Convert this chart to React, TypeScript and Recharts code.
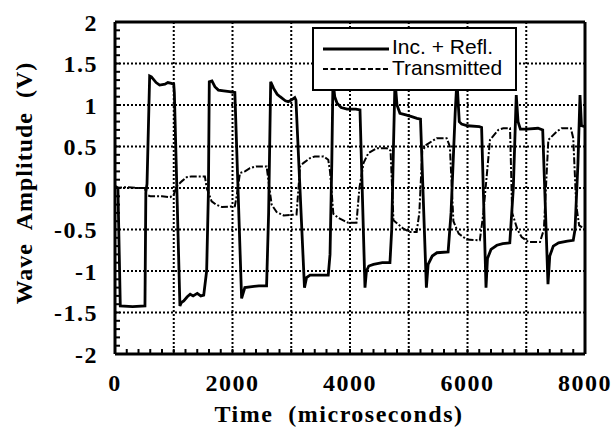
import {
  CartesianGrid,
  Label,
  Legend,
  Line,
  LineChart,
  ReferenceLine,
  XAxis,
  YAxis,
} from 'recharts'

// [time (µs), amplitude (V)]
const incReflPoints: [number, number][] = [
  [0, 0.02], [50, 0.0], [90, -1.42], [300, -1.43], [510, -1.42],
  [525, -0.05], [545, 0.05], [590, 1.35], [620, 1.34], [700, 1.27],
  [760, 1.24], [850, 1.25], [900, 1.27], [960, 1.26], [1000, 1.25],
  [1010, 1.15], [1105, -1.42], [1130, -1.38], [1170, -1.36], [1230, -1.31],
  [1280, -1.28], [1330, -1.3], [1400, -1.27], [1460, -1.3], [1510, -1.29],
  [1560, -1.0], [1590, -0.05], [1605, 1.28], [1650, 1.29], [1700, 1.22],
  [1760, 1.18], [1850, 1.17], [1950, 1.16], [2040, 1.15], [2155, -1.33],
  [2210, -1.2], [2300, -1.19], [2450, -1.18], [2580, -1.18], [2615, -0.3],
  [2650, 1.28], [2700, 1.2], [2760, 1.13], [2810, 1.1], [2900, 1.05],
  [2950, 1.04], [3000, 1.06], [3060, 1.09], [3080, 1.06], [3225, -1.2],
  [3260, -1.08], [3320, -1.05], [3500, -1.05], [3630, -1.05], [3660, -0.8],
  [3690, 0.3], [3710, 1.3], [3740, 1.1], [3780, 1.02], [3850, 0.97],
  [3950, 0.95], [4100, 0.95], [4170, 0.94], [4255, -1.2], [4280, -1.0],
  [4320, -0.94], [4400, -0.92], [4550, -0.9], [4680, -0.9], [4710, -0.5],
  [4740, 0.5], [4766, 1.3], [4800, 1.0], [4850, 0.9], [4950, 0.88],
  [5050, 0.86], [5140, 0.84], [5200, 0.83], [5300, -1.2], [5330, -0.92],
  [5400, -0.82], [5480, -0.78], [5670, -0.77], [5720, -0.3], [5790, 0.9],
  [5820, 1.3], [5860, 0.8], [5900, 0.77], [6000, 0.75], [6200, 0.74],
  [6240, 0.73], [6315, -1.2], [6340, -0.85], [6400, -0.74], [6500, -0.69],
  [6600, -0.67], [6720, -0.66], [6780, 0.0], [6830, 1.12], [6860, 0.8],
  [6900, 0.71], [7000, 0.71], [7200, 0.72], [7280, 0.7], [7370, -1.16],
  [7400, -0.82], [7460, -0.7], [7550, -0.66], [7700, -0.64], [7800, -0.63],
  [7830, -0.5], [7880, 0.3], [7915, 1.12], [7940, 0.75], [8000, 0.74],
]

const transmittedPoints: [number, number][] = [
  [0, 0.0], [200, 0.01], [400, 0.0], [510, 0.0], [530, -0.08],
  [600, -0.1], [800, -0.1], [940, -0.11], [1000, -0.08], [1050, 0.02],
  [1135, 0.08], [1220, 0.13], [1300, 0.14], [1530, 0.14], [1560, 0.0],
  [1645, -0.16], [1720, -0.2], [1820, -0.23], [2040, -0.22], [2070, -0.1],
  [2127, 0.18], [2212, 0.2], [2297, 0.24], [2400, 0.26], [2580, 0.26],
  [2610, 0.1], [2666, -0.2], [2751, -0.29], [2870, -0.33], [3090, -0.32],
  [3150, 0.26], [3205, 0.3], [3320, 0.36], [3400, 0.38], [3550, 0.38],
  [3630, 0.34], [3660, 0.2], [3716, -0.31], [3800, -0.36], [3886, -0.39],
  [3970, -0.42], [4110, -0.42], [4160, 0.0], [4230, 0.3], [4312, 0.42],
  [4454, 0.48], [4625, 0.48], [4690, 0.45], [4740, -0.39], [4908, -0.49],
  [5020, -0.53], [5135, -0.53], [5180, -0.3], [5230, 0.45], [5300, 0.52],
  [5475, 0.6], [5645, 0.6], [5700, 0.5], [5760, -0.4], [5850, -0.55],
  [5986, -0.62], [6210, -0.63], [6270, -0.3], [6383, 0.58], [6525, 0.7],
  [6610, 0.72], [6724, 0.72], [6760, -0.3], [6850, -0.5], [6922, -0.59],
  [7036, -0.65], [7234, -0.65], [7300, -0.5], [7376, 0.58], [7518, 0.68],
  [7603, 0.72], [7760, 0.72], [7800, 0.6], [7850, -0.2], [7900, -0.45],
  [8000, -0.5],
]

const xDomain = [0, 8000]
const yDomain = [-2, 2]
const xTicks = [0, 1000, 2000, 3000, 4000, 5000, 6000, 7000, 8000]
const xMinorTicks = Array.from({ length: 41 }, (_, i) => i * 200)
const yTicks = [-2, -1.5, -1, -0.5, 0, 0.5, 1, 1.5, 2]
const yMinorTicks = Array.from({ length: 41 }, (_, i) => Math.round((i * 0.1 - 2) * 10) / 10)

const incReflData = incReflPoints.map(([t, v]) => ({ t, v }))
const transmittedData = transmittedPoints.map(([t, v]) => ({ t, v }))

const serif = '"Liberation Serif", "Times New Roman", serif'
const sans = '"Liberation Sans", Arial, sans-serif'

// inward tick lengths expressed in axis units (~5px)
const X_TICK_LEN = 0.06
const Y_TICK_LEN = 85

const tickStyle = {
  fill: '#000',
  fontFamily: serif,
  fontWeight: 'bold',
  fontSize: 24,
  letterSpacing: 1.5,
}

const LegendBox = () => (
  <svg width={205} height={64} style={{ display: 'block' }}>
    <rect x={1} y={1} width={203} height={62} fill="#fff" stroke="#000" strokeWidth={2} />
    <line x1={11} x2={77} y1={22} y2={22} stroke="#000" strokeWidth={3} />
    <text x={80} y={27} fontFamily={sans} fontSize={21} fill="#000">
      Inc. + Refl.
    </text>
    <line x1={11} x2={77} y1={42} y2={42} stroke="#000" strokeWidth={2} strokeDasharray="5 2.5" />
    <text x={80} y={48} fontFamily={sans} fontSize={21} fill="#000">
      Transmitted
    </text>
  </svg>
)

export default function App() {
  return (
    <div style={{ position: 'absolute', left: 0, top: 0, background: '#fff' }}>
      <LineChart width={615} height={430} margin={{ top: 22, right: 30, bottom: 36, left: 5 }}>
        <CartesianGrid stroke="#000" strokeWidth={2} strokeDasharray="2 2" />
        {xMinorTicks.map((t) => (
          <ReferenceLine
            key={`tx${t}`}
            segment={[
              { x: t, y: -2 },
              { x: t, y: -2 + X_TICK_LEN },
            ]}
            stroke="#000"
            strokeWidth={2}
          />
        ))}
        {yMinorTicks.map((v) => (
          <ReferenceLine
            key={`ty${v}`}
            segment={[
              { x: 0, y: v },
              { x: Y_TICK_LEN, y: v },
            ]}
            stroke="#000"
            strokeWidth={2}
          />
        ))}
        <XAxis
          type="number"
          dataKey="t"
          domain={xDomain}
          ticks={xTicks}
          interval={0}
          tickFormatter={(v: number) => (v % 2000 === 0 ? String(v) : '')}
          tickSize={0}
          tickMargin={20}
          tickLine={false}
          axisLine={false}
          height={40}
          tick={tickStyle}
        >
          <Label
            content={() => (
              <text
                x={339}
                y={422}
                textAnchor="middle"
                fontFamily={serif}
                fontWeight="bold"
                fontSize={24}
                letterSpacing={1.5}
                style={{ whiteSpace: 'pre' }}
                fill="#000"
              >
                {'Time  (microseconds)'}
              </text>
            )}
          />
        </XAxis>
        <YAxis
          type="number"
          domain={yDomain}
          ticks={yTicks}
          interval={0}
          tickSize={0}
          tickMargin={17}
          tickLine={false}
          axisLine={false}
          width={110}
          tick={tickStyle}
        >
          <Label
            content={() => (
              <text
                x={32}
                y={183}
                transform="rotate(-90, 32, 183)"
                textAnchor="middle"
                fontFamily={serif}
                fontWeight="bold"
                fontSize={24}
                letterSpacing={1}
                style={{ whiteSpace: 'pre' }}
                fill="#000"
              >
                {'Wave  Amplitude  (V)'}
              </text>
            )}
          />
        </YAxis>
        <Line
          data={transmittedData}
          dataKey="v"
          name="Transmitted"
          type="linear"
          stroke="#000"
          strokeWidth={2}
          strokeDasharray="7 2 2 2"
          dot={false}
          activeDot={false}
          isAnimationActive={false}
        />
        <Line
          data={incReflData}
          dataKey="v"
          name="Inc. + Refl."
          type="linear"
          stroke="#000"
          strokeWidth={2.8}
          dot={false}
          activeDot={false}
          isAnimationActive={false}
        />
        {xDomain.map((t) => (
          <ReferenceLine key={`fx${t}`} x={t} stroke="#000" strokeWidth={3} />
        ))}
        {yDomain.map((v) => (
          <ReferenceLine key={`fy${v}`} y={v} stroke="#000" strokeWidth={3} />
        ))}
        <Legend
          layout="vertical"
          align="center"
          verticalAlign="middle"
          content={() => <LegendBox />}
          wrapperStyle={{ left: 312, top: 27, width: 205, height: 64 }}
        />
      </LineChart>
    </div>
  )
}
